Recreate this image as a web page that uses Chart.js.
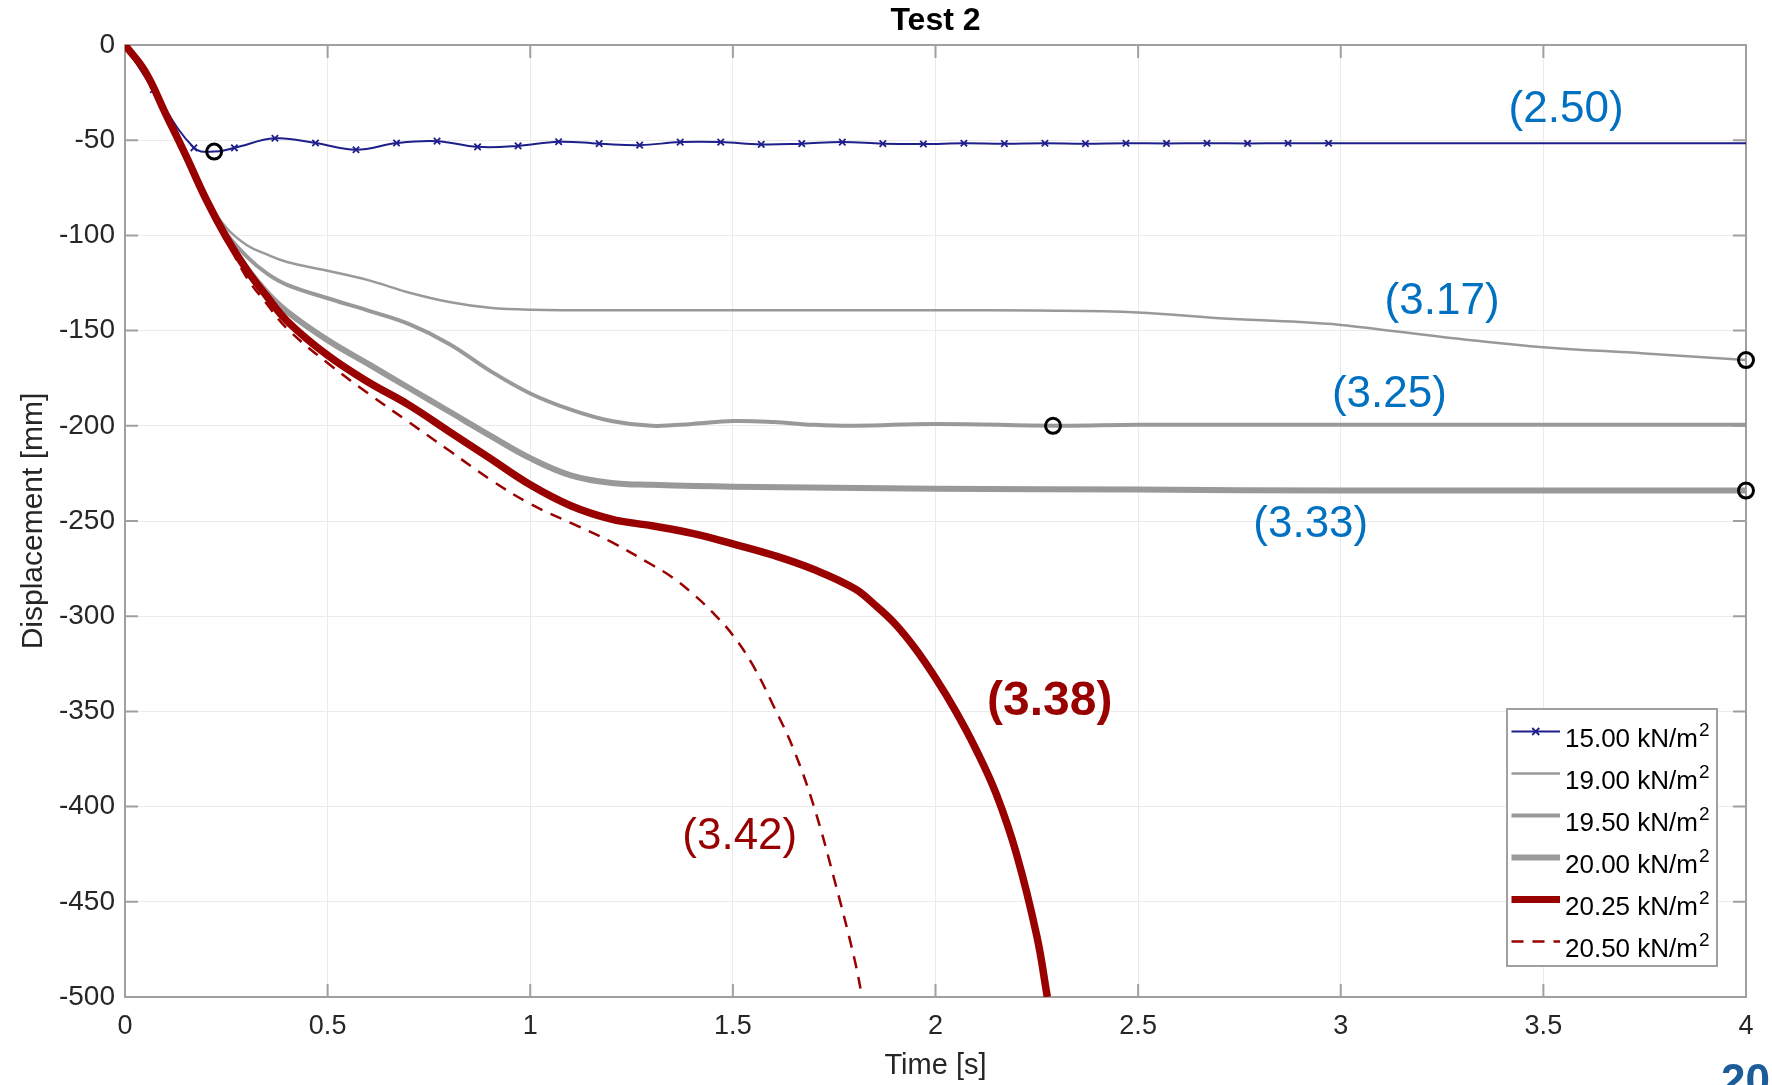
<!DOCTYPE html>
<html>
<head>
<meta charset="utf-8">
<title>Test 2</title>
<script src="https://cdn.jsdelivr.net/npm/chart.js@4.4.1/dist/chart.umd.min.js"></script>
<style>
    html, body { margin: 0; padding: 0; background: #ffffff; }
    #wrap { width: 1772px; height: 1085px; }
</style>
</head>
<body>
<div id="wrap"><canvas id="testChart" width="1772" height="1085"></canvas></div>
<script>
// Texts
const chartTitle = 'Test 2';
const xTitle = 'Time [s]';
const yTitle = 'Displacement [mm]';
const seriesLabels = ['15.00 kN/m²', '19.00 kN/m²', '19.50 kN/m²', '20.00 kN/m²', '20.25 kN/m²', '20.50 kN/m²'];
const xTicks = [0, 0.5, 1, 1.5, 2, 2.5, 3, 3.5, 4];
const yTicks = [0, -50, -100, -150, -200, -250, -300, -350, -400, -450, -500];

// 15.00 kN/m2
const time1500 = [0, 0.07, 0.17, 0.22, 0.27, 0.37, 0.47, 0.57, 0.67, 0.77, 0.87, 0.97, 1.07, 1.17, 1.27, 1.37, 1.47, 1.57, 1.67, 1.77, 1.87, 1.97, 2.07, 2.17, 2.27, 2.37, 2.47, 2.57, 2.67, 2.77, 2.87, 2.97, 4.0];
const disp1500 = [0, -23.5, -54, -56, -54, -49, -51.5, -55, -51.5, -50.5, -53.5, -53, -50.8, -51.8, -52.6, -51, -51, -52.2, -51.8, -51, -51.8, -52, -51.6, -51.8, -51.6, -51.8, -51.6, -51.7, -51.6, -51.7, -51.6, -51.6, -51.6];

// 19.00 kN/m2
const time1900 = [0, 0.05, 0.1, 0.15, 0.2, 0.25, 0.3, 0.35, 0.4, 0.5, 0.6, 0.7, 0.8, 0.9, 1.0, 1.25, 1.5, 1.75, 2.0, 2.25, 2.5, 2.7, 2.9, 3.0, 3.1, 3.2, 3.3, 3.5, 3.75, 4.0];
const disp1900 = [0, -14, -36, -58, -80, -96, -105, -110, -114, -118.6, -123.5, -130, -135, -138, -139, -139.3, -139.3, -139.3, -139.3, -139.5, -140.5, -143.5, -145.5, -147, -149.5, -152, -154.5, -158.7, -162, -165.5];

// 19.50 kN/m2
const time1950 = [0, 0.05, 0.1, 0.15, 0.2, 0.25, 0.3, 0.35, 0.4, 0.5, 0.6, 0.7, 0.8, 0.9, 1.0, 1.1, 1.2, 1.3, 1.4, 1.5, 1.6, 1.7, 1.8, 2.0, 2.3, 2.5, 3.0, 3.5, 4.0];
const disp1950 = [0, -14, -36, -58, -81, -99, -111, -120, -126, -133, -139.5, -146.5, -157, -171, -183, -191.5, -197.5, -200, -199, -197.5, -198, -199.5, -200, -199, -200, -199.5, -199.5, -199.5, -199.5];

// 20.00 kN/m2
const time2000 = [0, 0.05, 0.1, 0.15, 0.2, 0.25, 0.3, 0.35, 0.4, 0.5, 0.6, 0.7, 0.8, 0.9, 1.0, 1.1, 1.2, 1.3, 1.5, 2.0, 2.5, 3.0, 3.5, 4.0];
const disp2000 = [0, -14, -36, -58, -81, -101, -117, -130, -140, -155, -167.5, -180, -192.5, -205, -217, -226, -230, -231, -232, -233, -233.5, -234, -234, -234];

// 20.25 kN/m2
const time2025 = [0, 0.05, 0.1, 0.15, 0.2, 0.25, 0.3, 0.35, 0.4, 0.5, 0.6, 0.7, 0.8, 0.9, 1.0, 1.1, 1.2, 1.3, 1.4, 1.5, 1.6, 1.7, 1.8, 1.85, 1.9, 1.95, 2.0, 2.05, 2.1, 2.15, 2.2, 2.25, 2.276];
const disp2025 = [0, -14, -36, -58, -81, -101, -118, -132, -145, -163, -177, -189, -203, -217, -231, -242, -249, -252.5, -256.5, -262, -268, -275.5, -285.5, -294, -304, -317, -332.5, -350, -370, -393.5, -425, -468, -500];

// 20.50 kN/m2
const time2050 = [0, 0.05, 0.1, 0.15, 0.2, 0.25, 0.3, 0.35, 0.4, 0.5, 0.6, 0.7, 0.8, 0.9, 1.0, 1.1, 1.2, 1.3, 1.35, 1.4, 1.45, 1.5, 1.55, 1.6, 1.65, 1.7, 1.75, 1.8, 1.819];
const disp2050 = [0, -14, -36, -58, -81, -102, -122, -136, -149, -167, -183, -198, -213, -228, -241, -251, -261, -273, -279.5, -288, -298, -310, -326, -347, -370, -400, -438, -480, -500];

// Open circles (end points)
const circleTime = [0.22, 2.29, 4, 4];
const circleDisp = [-56, -200, -165.5, -234];

// Ratio labels
const ratioTexts = ['(2.50)', '(3.17)', '(3.25)', '(3.33)', '(3.38)', '(3.42)'];
const ratioTime = [3.556, 3.25, 3.12, 2.926, 2.282, 1.517];
const ratioDisp = [-34, -135, -183.5, -252, -345, -416];

const pageNumber = '20';

document.addEventListener('DOMContentLoaded', () => {
    const ctx = document.getElementById('testChart').getContext('2d');
    const FONT = "'Liberation Sans', Arial, Helvetica, sans-serif";
    const NAVY = '#1f1f8c';
    const GREY = '#999999';
    const DARKRED = '#990000';
    const LABEL_BLUE = '#0070c0';
    const AXIS = '#a0a0a0';
    const TEXT = '#262626';

    const toPoints = (times, values) => times.map((t, i) => ({ x: t, y: values[i] }));

    const ratioStyles = [
        { color: LABEL_BLUE, weight: 'normal', size: 44 },
        { color: LABEL_BLUE, weight: 'normal', size: 44 },
        { color: LABEL_BLUE, weight: 'normal', size: 44 },
        { color: LABEL_BLUE, weight: 'normal', size: 44 },
        { color: DARKRED, weight: 'bold', size: 48 },
        { color: DARKRED, weight: 'normal', size: 44 }
    ];

    const datasets = [
        {
            label: seriesLabels[0],
            data: toPoints(time1500, disp1500),
            borderColor: NAVY,
            borderWidth: 2,
            pointStyle: 'crossRot',
            pointRadius: (c) => (c.raw && (c.raw.x === 0.22 || c.raw.x === 4)) ? 0 : 4.5,
            pointBorderColor: NAVY,
            pointBorderWidth: 1.8,
            order: 6
        },
        { label: seriesLabels[1], data: toPoints(time1900, disp1900), borderColor: GREY, borderWidth: 2.5, pointRadius: 0, order: 5 },
        { label: seriesLabels[2], data: toPoints(time1950, disp1950), borderColor: GREY, borderWidth: 4, pointRadius: 0, order: 4 },
        { label: seriesLabels[3], data: toPoints(time2000, disp2000), borderColor: GREY, borderWidth: 6, pointRadius: 0, order: 3 },
        { label: seriesLabels[4], data: toPoints(time2025, disp2025), borderColor: DARKRED, borderWidth: 7.5, pointRadius: 0, order: 2 },
        { label: seriesLabels[5], data: toPoints(time2050, disp2050), borderColor: DARKRED, borderWidth: 2.5, borderDash: [12, 9], pointRadius: 0, order: 1 },
        {
            label: 'circles',
            data: toPoints(circleTime, circleDisp),
            showLine: false,
            pointStyle: 'circle',
            pointRadius: 7.5,
            pointBorderWidth: 3,
            pointBorderColor: '#000000',
            pointBackgroundColor: 'rgba(0,0,0,0)',
            borderColor: '#000000',
            backgroundColor: 'rgba(0,0,0,0)',
            clip: false,
            order: 0
        }
    ];

    // Box around the plot with inward ticks
    const axesBox = {
        id: 'axesBox',
        beforeDatasetsDraw(chart) {
            const { ctx, chartArea: a, scales } = chart;
            const tl = 13;
            ctx.save();
            ctx.strokeStyle = AXIS;
            ctx.lineWidth = 2;
            ctx.beginPath();
            xTicks.forEach(v => {
                const px = scales.x.getPixelForValue(v);
                ctx.moveTo(px, a.bottom); ctx.lineTo(px, a.bottom - tl);
                ctx.moveTo(px, a.top); ctx.lineTo(px, a.top + tl);
            });
            yTicks.forEach(v => {
                const py = scales.y.getPixelForValue(v);
                ctx.moveTo(a.left, py); ctx.lineTo(a.left + tl, py);
                ctx.moveTo(a.right, py); ctx.lineTo(a.right - tl, py);
            });
            ctx.stroke();
            ctx.strokeRect(a.left, a.top, a.right - a.left, a.bottom - a.top);
            ctx.restore();
        }
    };

    // Title, ratio labels and page number
    const texts = {
        id: 'texts',
        afterDatasetsDraw(chart) {
            const { ctx, chartArea: a, scales } = chart;
            ctx.save();
            ctx.fillStyle = '#000000';
            ctx.font = `bold 32px ${FONT}`;
            ctx.textAlign = 'center';
            ctx.textBaseline = 'middle';
            ctx.fillText(chartTitle, (a.left + a.right) / 2, 21);

            ratioTexts.forEach((txt, i) => {
                const st = ratioStyles[i];
                ctx.fillStyle = st.color;
                ctx.font = `${st.weight} ${st.size}px ${FONT}`;
                ctx.fillText(txt, scales.x.getPixelForValue(ratioTime[i]), scales.y.getPixelForValue(ratioDisp[i]));
            });

            ctx.fillStyle = '#1c5d99';
            ctx.font = `bold 44px ${FONT}`;
            ctx.textAlign = 'left';
            ctx.textBaseline = 'alphabetic';
            ctx.fillText(pageNumber, 1721, 1095);
            ctx.restore();
        }
    };

    // Legend box, lower right corner of the plot
    const legendBox = {
        id: 'legendBox',
        afterDraw(chart) {
            const { ctx, chartArea: a } = chart;
            const w = 210, h = 257;
            const left = a.right - 29 - w;
            const top = a.bottom - 31 - h;
            ctx.save();
            ctx.fillStyle = '#ffffff';
            ctx.fillRect(left, top, w, h);
            ctx.strokeStyle = AXIS;
            ctx.lineWidth = 2;
            ctx.strokeRect(left, top, w, h);

            chart.data.datasets.forEach((ds, i) => {
                if (ds.showLine === false) return;
                const base = top + 37.5 + i * 42;
                const ly = base - 15;
                const x0 = left + 4.5, x1 = left + 53;
                ctx.strokeStyle = ds.borderColor;
                ctx.lineWidth = Math.min(ds.borderWidth, 7);
                ctx.setLineDash(ds.borderDash || []);
                ctx.beginPath();
                ctx.moveTo(x0, ly);
                ctx.lineTo(x1, ly);
                ctx.stroke();
                ctx.setLineDash([]);
                if (ds.pointStyle === 'crossRot') {
                    const cx = (x0 + x1) / 2, r = 3.5;
                    ctx.lineWidth = 1.8;
                    ctx.beginPath();
                    ctx.moveTo(cx - r, ly - r); ctx.lineTo(cx + r, ly + r);
                    ctx.moveTo(cx - r, ly + r); ctx.lineTo(cx + r, ly - r);
                    ctx.stroke();
                }
                const label = ds.label;
                const hasSup = label.endsWith('²');
                const main = hasSup ? label.slice(0, -1) : label;
                ctx.fillStyle = '#000000';
                ctx.font = `26px ${FONT}`;
                ctx.textAlign = 'left';
                ctx.textBaseline = 'alphabetic';
                const tx = left + 58;
                ctx.fillText(main, tx, base);
                if (hasSup) {
                    const mw = ctx.measureText(main).width;
                    ctx.font = `19px ${FONT}`;
                    ctx.fillText('2', tx + mw + 1, base - 11);
                }
            });
            ctx.restore();
        }
    };

    new Chart(ctx, {
        type: 'line',
        data: { datasets },
        options: {
            responsive: false,
            animation: false,
            events: [],
            layout: { padding: { top: 45, right: 26, left: 0, bottom: 0 } },
            elements: { line: { tension: 0.4, fill: false } },
            plugins: {
                legend: { display: false },
                title: { display: false },
                tooltip: { enabled: false }
            },
            scales: {
                x: {
                    type: 'linear',
                    min: 0,
                    max: 4,
                    afterBuildTicks: (s) => { s.ticks = xTicks.map(v => ({ value: v })); },
                    afterFit: (s) => { s.height = 88; },
                    ticks: {
                        callback: (v) => String(v),
                        font: { family: FONT, size: 27 },
                        color: TEXT,
                        padding: 13,
                        maxRotation: 0,
                        autoSkip: false
                    },
                    grid: { color: '#ebebeb', lineWidth: 1, drawTicks: false },
                    border: { display: false },
                    title: {
                        display: true,
                        text: xTitle,
                        font: { family: FONT, size: 29, lineHeight: 1.2 },
                        color: TEXT,
                        padding: { top: 0, bottom: 2 }
                    }
                },
                y: {
                    type: 'linear',
                    min: -500,
                    max: 0,
                    afterBuildTicks: (s) => { s.ticks = yTicks.slice().reverse().map(v => ({ value: v })); },
                    afterFit: (s) => { s.width = 125; },
                    ticks: {
                        callback: (v) => String(v),
                        font: { family: FONT, size: 28 },
                        color: TEXT,
                        padding: 10,
                        autoSkip: false
                    },
                    grid: { color: '#ebebeb', lineWidth: 1, drawTicks: false },
                    border: { display: false },
                    title: {
                        display: true,
                        text: yTitle,
                        font: { family: FONT, size: 30, lineHeight: 1.2 },
                        color: TEXT,
                        padding: { top: 16, bottom: 0 }
                    }
                }
            }
        },
        plugins: [axesBox, texts, legendBox]
    });
});
</script>
</body>
</html>
